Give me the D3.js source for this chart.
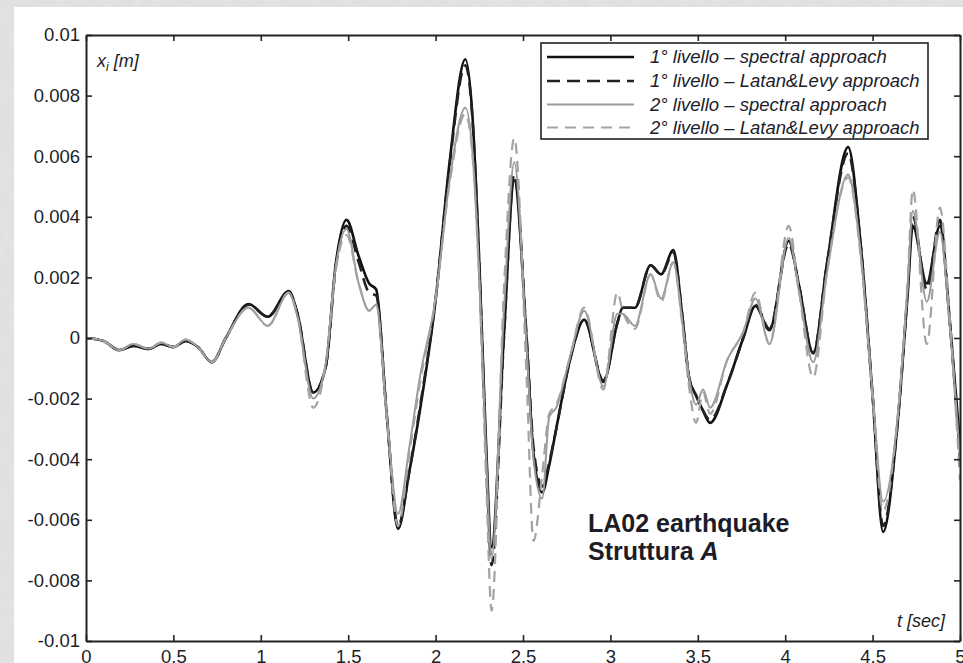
<!DOCTYPE html>
<html>
<head>
<meta charset="utf-8">
<script src="https://cdn.jsdelivr.net/npm/d3@7"></script>
<style>
  html, body { margin: 0; padding: 0; background: #d6d6d6; }
  svg { display: block; }
  text { font-family: "Liberation Sans", Arial, sans-serif; fill: #1d1d28; }
</style>
</head>
<body>
<svg id="chart" width="963" height="663"></svg>
<script>
// Time samples [s]
const time = [
  0, 0.1, 0.19, 0.27, 0.36, 0.43, 0.5, 0.57, 0.64, 0.72, 0.8, 0.93, 1.04, 1.16, 1.21,
  1.30, 1.37, 1.43, 1.49, 1.56, 1.62, 1.66, 1.72, 1.785, 1.85, 1.91, 2.0, 2.08, 2.17,
  2.21, 2.25, 2.29, 2.32, 2.39, 2.45, 2.52, 2.56, 2.61, 2.65, 2.69, 2.77, 2.85, 2.96,
  3.04, 3.07, 3.14, 3.23, 3.29, 3.36, 3.41, 3.45, 3.49, 3.53, 3.57, 3.67, 3.76, 3.83,
  3.91, 4.02, 4.08, 4.16, 4.24, 4.36, 4.43, 4.50, 4.56, 4.64, 4.70, 4.73, 4.81, 4.885,
  4.94, 5.0
];

// Displacement x_i [m] – 1st level, spectral approach
const level1Spectral = [
  0, -0.0001, -0.0004, -0.00026, -0.00036, -0.0002, -0.0003, -0.0001, -0.0003, -0.0008, 0.0, 0.00112, 0.0007, 0.00155, 0.0008,
  -0.0018, -0.001, 0.0025, 0.0039, 0.0027, 0.0018, 0.0016, -0.0025, -0.0063, -0.0044, -0.0024, 0.00125, 0.0058, 0.0092,
  0.0074, 0.0025, -0.0037, -0.0069, 0.0, 0.0052, 0.0, -0.0038, -0.0051, -0.0042, -0.003, -0.0007, 0.0006, -0.00145,
  0.0005, 0.001, 0.001, 0.0024, 0.0021, 0.0029, 0.0008, -0.0013, -0.0019, -0.0024, -0.0028, -0.0015, 0.0, 0.00106,
  0.00026, 0.0032, 0.0017, -0.0005, 0.0025, 0.0063, 0.0032, -0.0019, -0.0064, -0.003, 0.0014, 0.0037, 0.0018, 0.0037,
  0.0007, -0.0035
];

// 1st level, Latan&Levy approach
const level1LatanLevy = [
  0, -0.0001, -0.0004, -0.00026, -0.00036, -0.0002, -0.0003, -0.0001, -0.0003, -0.0008, 0.0, 0.0011, 0.0007, 0.0015, 0.0008,
  -0.0018, -0.001, 0.0024, 0.0037, 0.0025, 0.0015, 0.0014, -0.0025, -0.0062, -0.0044, -0.0023, 0.0013, 0.0057, 0.0090,
  0.0073, 0.0024, -0.0039, -0.0075, -0.0001, 0.0054, 0.0001, -0.0036, -0.0049, -0.0041, -0.003, -0.0007, 0.0006, -0.0014,
  0.0005, 0.001, 0.001, 0.0024, 0.0021, 0.0028, 0.0008, -0.0013, -0.0019, -0.0024, -0.0027, -0.0015, 0.0, 0.0011,
  0.0003, 0.0031, 0.0017, -0.0005, 0.0025, 0.0061, 0.0032, -0.0019, -0.0062, -0.003, 0.0015, 0.0040, 0.0016, 0.0039,
  0.0006, -0.0040
];

// 2nd level, spectral approach
const level2Spectral = [
  0, -0.0001, -0.0004, -0.0002, -0.00035, -0.00015, -0.0003, -0.00005, -0.0003, -0.0008, 0.0, 0.001, 0.0004, 0.0015, 0.0007,
  -0.002, -0.0009, 0.0024, 0.0036, 0.0018, 0.0009, 0.0011, -0.0025, -0.0058, -0.0036, -0.0013, 0.0013, 0.0052, 0.0076,
  0.0062, 0.002, -0.004, -0.0073, 0.0008, 0.0058, -0.0002, -0.004, -0.0053, -0.0026, -0.0023, -0.0006, 0.0009, -0.0016,
  0.0008, 0.0008, 0.0004, 0.0021, 0.0013, 0.0025, 0.0006, -0.0013, -0.0022, -0.0017, -0.0023, -0.0007, 0.0002, 0.0013,
  -0.0002, 0.0033, 0.0015, -0.0008, 0.0022, 0.0054, 0.0029, -0.0018, -0.0054, -0.0028, 0.0017, 0.0042, 0.0012, 0.0035,
  0.0005, -0.004
];

// 2nd level, Latan&Levy approach
const level2LatanLevy = [
  0, -0.0001, -0.0004, -0.0002, -0.00035, -0.00015, -0.0003, -0.00005, -0.0003, -0.0008, 0.0, 0.001, 0.0004, 0.0015, 0.0007,
  -0.0023, -0.0009, 0.0023, 0.0034, 0.0018, 0.0009, 0.0011, -0.0026, -0.0062, -0.0038, -0.0015, 0.0013, 0.0051, 0.0074,
  0.0061, 0.0018, -0.0048, -0.0090, 0.0015, 0.0066, -0.0012, -0.0067, -0.0045, -0.0025, -0.0022, -0.0006, 0.001, -0.0017,
  0.0015, 0.0009, 0.0003, 0.0021, 0.0012, 0.0025, 0.0005, -0.0016, -0.0028, -0.0018, -0.0025, -0.0007, 0.0002, 0.0015,
  -0.0002, 0.0037, 0.0015, -0.0013, 0.0022, 0.0053, 0.0028, -0.002, -0.0057, -0.0028, 0.0018, 0.0049, -0.0002, 0.0043,
  0.0008, -0.0047
];

const seriesLabels = [
  "1° livello – spectral approach",
  "1° livello – Latan&Levy approach",
  "2° livello – spectral approach",
  "2° livello – Latan&Levy approach"
];

const xTicks = [0, 0.5, 1, 1.5, 2, 2.5, 3, 3.5, 4, 4.5, 5];
const xTickLabels = ["0", "0.5", "1", "1.5", "2", "2.5", "3", "3.5", "4", "4.5", "5"];
const yTicks = [0.01, 0.008, 0.006, 0.004, 0.002, 0, -0.002, -0.004, -0.006, -0.008, -0.01];
const yTickLabels = ["0.01", "0.008", "0.006", "0.004", "0.002", "0", "-0.002", "-0.004", "-0.006", "-0.008", "-0.01"];

const W = 963, H = 663;
const plot = { left: 86, right: 960, top: 35, bottom: 641 };

const svg = d3.select("#chart");
const defs = svg.append("defs");

// Stone-like backdrop behind the page
const stone = defs.append("filter").attr("id", "stone")
  .attr("x", 0).attr("y", 0).attr("width", "100%").attr("height", "100%");
stone.append("feTurbulence").attr("type", "fractalNoise")
  .attr("baseFrequency", "0.09 0.06").attr("numOctaves", 4).attr("seed", 7).attr("result", "n");
stone.append("feColorMatrix").attr("type", "matrix")
  .attr("values", "0 0 0 0 0.72  0 0 0 0 0.72  0 0 0 0 0.72  0.9 0.3 0 0 -0.2");
svg.append("rect").attr("width", W).attr("height", H).attr("fill", "#e4e4e4");
svg.append("rect").attr("width", W).attr("height", H).attr("filter", "url(#stone)");

// White page
svg.append("rect").attr("x", 14).attr("y", 7).attr("width", W - 14).attr("height", H - 7).attr("fill", "#ffffff");

defs.append("clipPath").attr("id", "plotClip").append("rect")
  .attr("x", plot.left).attr("y", plot.top)
  .attr("width", plot.right - plot.left).attr("height", plot.bottom - plot.top);

const x = d3.scaleLinear().domain([0, 5]).range([plot.left, plot.right]);
const y = d3.scaleLinear().domain([-0.01, 0.01]).range([plot.bottom, plot.top]);

// Data lines
const styles = [
  { data: level1Spectral,  color: "#111111", width: 2.6, dash: null },
  { data: level1LatanLevy, color: "#222222", width: 2.6, dash: "13,7" },
  { data: level2Spectral,  color: "#9a9a9a", width: 2.0, dash: null },
  { data: level2LatanLevy, color: "#a3a3a3", width: 2.2, dash: "11,7" }
];

const lineGen = vals => d3.line()
  .x((d, i) => x(time[i]))
  .y(d => y(d))
  .curve(d3.curveMonotoneX)(vals);

const lines = svg.append("g").attr("clip-path", "url(#plotClip)");
styles.forEach(s => {
  lines.append("path")
    .attr("d", lineGen(s.data))
    .attr("fill", "none")
    .attr("stroke", s.color)
    .attr("stroke-width", s.width)
    .attr("stroke-dasharray", s.dash)
    .attr("stroke-linejoin", "round");
});

// Axes (ticks pointing inward on all four sides)
const fmtX = d => xTickLabels[xTicks.indexOf(d)];
const fmtY = d => yTickLabels[yTicks.indexOf(d)];

const axisStyle = g => {
  g.select(".domain").attr("stroke", "#222").attr("stroke-width", 2);
  g.selectAll(".tick line").attr("stroke", "#222").attr("stroke-width", 1.6);
  g.selectAll(".tick text").attr("font-size", "18.5px").attr("fill", "#1d1d28")
    .attr("font-family", "'Liberation Sans', Arial, sans-serif");
};

svg.append("g").attr("transform", `translate(0,${plot.bottom})`)
  .call(d3.axisBottom(x).tickValues(xTicks).tickFormat(fmtX).tickSizeInner(-6).tickSizeOuter(0).tickPadding(9))
  .call(axisStyle);
svg.append("g").attr("transform", `translate(0,${plot.top})`)
  .call(d3.axisTop(x).tickValues(xTicks).tickFormat("").tickSizeInner(-6).tickSizeOuter(0))
  .call(axisStyle);
svg.append("g").attr("transform", `translate(${plot.left},0)`)
  .call(d3.axisLeft(y).tickValues(yTicks).tickFormat(fmtY).tickSizeInner(-6).tickSizeOuter(0).tickPadding(6))
  .call(axisStyle);
svg.append("g").attr("transform", `translate(${plot.right},0)`)
  .call(d3.axisRight(y).tickValues(yTicks).tickFormat("").tickSizeInner(-6).tickSizeOuter(0))
  .call(axisStyle);

// Axis titles
const yTitle = svg.append("text").attr("x", 97).attr("y", 67)
  .attr("font-size", "18px").attr("font-style", "italic");
yTitle.append("tspan").text("x");
yTitle.append("tspan").attr("font-size", "12px").attr("dy", 4).text("i");
yTitle.append("tspan").attr("dy", -4).text(" [m]");

svg.append("text").attr("x", 945).attr("y", 627).attr("text-anchor", "end")
  .attr("font-size", "18px").attr("font-style", "italic").text("t [sec]");

// Legend
const legend = svg.append("g");
legend.append("rect").attr("x", 541).attr("y", 43).attr("width", 387).attr("height", 96)
  .attr("fill", "#ffffff").attr("stroke", "#222").attr("stroke-width", 1.6);
const rowY = [57, 81, 104.5, 127.5];
styles.forEach((s, i) => {
  legend.append("line")
    .attr("x1", 547).attr("x2", 634).attr("y1", rowY[i]).attr("y2", rowY[i])
    .attr("stroke", s.color).attr("stroke-width", s.width).attr("stroke-dasharray", s.dash);
  legend.append("text").attr("x", 650).attr("y", rowY[i]).attr("dy", "0.35em")
    .attr("font-size", "18.5px").attr("font-style", "italic").text(seriesLabels[i]);
});

// Annotation
svg.append("text").attr("x", 588).attr("y", 532)
  .attr("font-size", "25px").attr("font-weight", "bold").attr("fill", "#111")
  .text("LA02 earthquake");
const struct = svg.append("text").attr("x", 588).attr("y", 560)
  .attr("font-size", "25px").attr("font-weight", "bold").attr("fill", "#111");
struct.append("tspan").text("Struttura ");
struct.append("tspan").attr("font-style", "italic").text("A");
</script>
</body>
</html>
